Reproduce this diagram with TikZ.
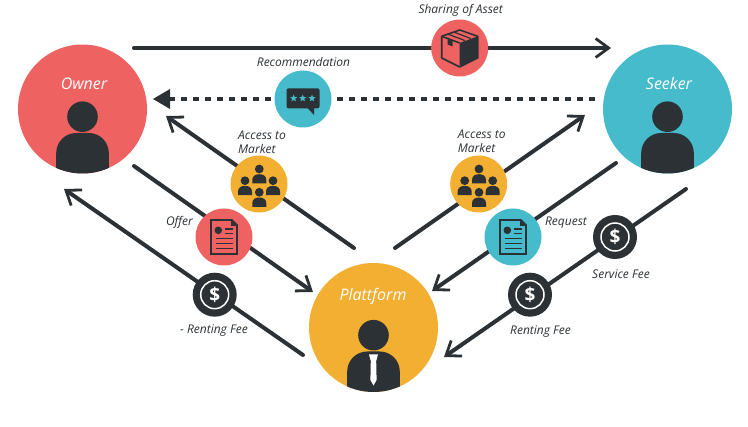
\documentclass[tikz,border=0pt]{standalone}
\usepackage{fontspec}
\setmainfont{Open Sans}
\usetikzlibrary{arrows.meta,shapes.geometric}
\definecolor{inkdark}{HTML}{2B3135}
\definecolor{ownerred}{HTML}{EE6361}
\definecolor{seekerteal}{HTML}{45BBCB}
\definecolor{platyellow}{HTML}{F2AF31}
\tikzset{
  role/.style={circle,minimum size=129pt,inner sep=0pt},
  badge/.style={circle,minimum size=57pt,inner sep=0pt},
  feebadge/.style={circle,fill=inkdark,minimum size=44pt,inner sep=0pt},
  roletext/.style={font=\fontsize{16}{16}\selectfont\itshape,text=white},
  caption/.style={font=\fontsize{12}{14}\selectfont\itshape,text=inkdark,inner sep=0pt},
  flow/.style={line width=4pt,inkdark,line cap=round,-{Straight Barb[length=13pt,width=19pt,line width=2.8pt]}},
  recommend/.style={line width=4pt,inkdark,dash pattern=on 6.5pt off 5.5pt},
  person/.pic={
    \begin{scope}
      \clip (0,0) circle (64.5);
      \fill[inkdark] (0,7.7) circle (15.3);
      \fill[inkdark,rounded corners=20pt] (-26.3,90) -- (-26.3,24) -- (26.3,24) -- (26.3,90) -- cycle;
    \end{scope}
  },
  tinyperson/.pic={
    \fill[inkdark] (0,0) circle (4.4);
    \fill[inkdark] (-7,14.5) -- (-7,11) .. controls (-7,7) and (-4,5.2) .. (0,5.2) .. controls (4,5.2) and (7,7) .. (7,11) -- (7,14.5) -- cycle;
  },
  crowd/.pic={
    \pic at (0.3,-15) {tinyperson};
    \pic at (-14,-3.3) {tinyperson};
    \pic at (14,-3.3) {tinyperson};
    \pic at (0.3,8.3) {tinyperson};
  },
  paper/.pic={
    \draw[inkdark,line width=1.6pt,line join=miter] (-13,-17) -- (8,-17) -- (13,-12) -- (13,17) -- (-13,17) -- cycle;
    \fill[inkdark] (7,-17) -- (13,-11) -- (7,-11) -- cycle;
    \fill[inkdark] (-5.7,-6.7) circle (3.8);
    \foreach \y in {-8,-3.5} \draw[inkdark,line width=1.3pt] (1,\y) -- (9,\y);
    \foreach \y in {1.5,6.5,11.5} \draw[inkdark,line width=1.3pt] (-8.5,\y) -- (9,\y);
  },
}
\begin{document}
\begin{tikzpicture}[x=1pt,y=-1pt]
  \useasboundingbox (0,0) rectangle (748,427);
  % end points of the flows
  \coordinate (shareFrom) at (134,48);
  \coordinate (shareTo) at (611,48);
  \coordinate (recoFrom) at (595,99);
  \coordinate (recoTo) at (170,99);
  \coordinate (accessLFrom) at (354,248);
  \coordinate (accessLTo) at (166,116);
  \coordinate (offerFrom) at (134,166);
  \coordinate (offerTo) at (313,292);
  \coordinate (feeLFrom) at (303,355);
  \coordinate (feeLTo) at (64,189);
  \coordinate (accessRFrom) at (395,248);
  \coordinate (accessRTo) at (585,115);
  \coordinate (requestFrom) at (616,163);
  \coordinate (requestTo) at (432,291);
  \coordinate (feeRFrom) at (686,189);
  \coordinate (feeRTo) at (444,357);

  \draw[flow] (shareFrom) -- (shareTo);
  \draw[recommend] (recoFrom) -- (recoTo);
  \draw[flow] (accessLFrom) -- (accessLTo);
  \draw[flow] (offerFrom) -- (offerTo);
  \draw[flow] (feeLFrom) -- (feeLTo);
  \draw[flow] (accessRFrom) -- (accessRTo);
  \draw[flow] (requestFrom) -- (requestTo);
  \draw[flow] (feeRFrom) -- (feeRTo);
  \coordinate (recoTip) at (153,99);
  \fill[inkdark] (recoTip) -- (170,89) -- (170,109) -- cycle;

  % roles
  \node[role,fill=ownerred] (owner) at (82.5,109) {};
  \node[role,fill=seekerteal] (seeker) at (667.5,109) {};
  \node[role,fill=platyellow] (plattform) at (373.5,327.5) {};
  \pic at (owner) {person};
  \pic at (seeker) {person};
  \pic at (plattform) {person};
  \fill[white] (369,354.5) -- (378,354.5) -- (376.2,361) -- (376.6,380) -- (373.5,385.5) -- (370.4,380) -- (370.8,361) -- cycle;
  \node[roletext] (ownerName) at (84,84) {Owner};
  \node[roletext] (seekerName) at (669,84) {Seeker};
  \node[roletext] (plattformName) at (373,296) {Plattform};

  % badges on the flows
  \node[badge,fill=ownerred] (shareBadge) at (459.7,48) {};
  \node[badge,fill=seekerteal] (recoBadge) at (303,99) {};
  \node[badge,fill=platyellow] (accessLBadge) at (259,184) {};
  \node[badge,fill=platyellow] (accessRBadge) at (478.7,184) {};
  \node[badge,fill=ownerred] (offerBadge) at (224,237) {};
  \node[badge,fill=seekerteal] (requestBadge) at (513,237) {};
  \node[feebadge] (feeLBadge) at (214.7,294.7) {};
  \node[feebadge] (serviceBadge) at (615,237) {};
  \node[feebadge] (feeRBadge) at (530,294.7) {};

  % parcel
  \begin{scope}[shift={(shareBadge)}]
    \fill[inkdark] (0,-5) -- (18,-11.7) -- (18,10) -- (0,19) -- cycle;
    \draw[inkdark,line width=1.6pt,line join=round] (-18,-11.7) -- (0,-18) -- (18,-11.7) -- (18,10) -- (0,19) -- (-18,10) -- cycle;
    \draw[inkdark,line width=1.6pt] (-18,-11.7) -- (0,-5);
    \draw[inkdark,line width=1.2pt] (-12,-14) -- (5,-7.5);
    \draw[inkdark,line width=1.2pt] (-6,-16) -- (11,-9.5);
    \fill[inkdark] (-12,-9.5) -- (-7,-7.6) -- (-7,-1.5) -- (-12,-3.4) -- cycle;
  \end{scope}

  % speech bubble
  \begin{scope}[shift={(recoBadge)}]
    \fill[inkdark,rounded corners=2pt] (-16.5,-10.7) -- (16.5,-10.7) -- (16.5,9.3) -- (-16.5,9.3) -- cycle;
    \fill[inkdark] (4.5,9) -- (11,9) -- (11,16) -- cycle;
  \end{scope}
  \foreach \dx [count=\i] in {-9.3,-0.3,9}
    \node[star,star points=5,star point ratio=2.3,fill=seekerteal,minimum size=7.5pt,inner sep=0pt] (recoStar\i) at ([shift={(\dx,-0.7)}]recoBadge) {};

  \pic at (accessLBadge) {crowd};
  \pic at (accessRBadge) {crowd};
  \pic at (offerBadge) {paper};
  \pic at (requestBadge) {paper};

  % fee discs
  \foreach \fee in {feeLBadge,serviceBadge,feeRBadge} {
    \draw[white,line width=1.5pt] (\fee) circle (14);
    \node[text=white,font=\fontsize{19}{19}\selectfont\bfseries,inner sep=0pt] (\fee Sign) at (\fee) {\$};
  }

  % captions
  \node[caption] (shareText) at (460.7,10) {Sharing of Asset};
  \node[caption] (recoText) at (303.5,62) {Recommendation};
  \node[caption,align=left,anchor=west] (accessLText) at (238,142) {Access to\\Market};
  \node[caption,align=left,anchor=west] (accessRText) at (457.7,141) {Access to\\Market};
  \node[caption] (offerText) at (179.5,222.7) {Offer};
  \node[caption] (requestText) at (566,222.7) {Request};
  \node[caption] (feeLText) at (214,331) {- Renting Fee};
  \node[caption] (serviceText) at (621,274) {Service Fee};
  \node[caption] (feeRText) at (540.5,331.5) {Renting Fee};
\end{tikzpicture}
\end{document}
